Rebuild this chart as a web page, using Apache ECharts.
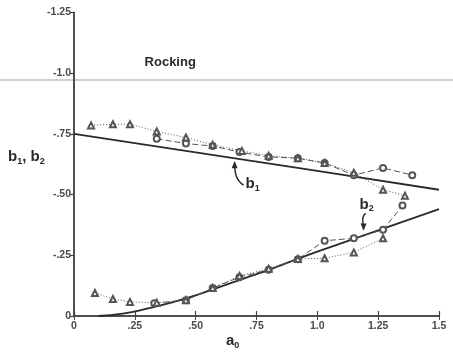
<!DOCTYPE html>
<html><head><meta charset="utf-8">
<script src="https://cdn.jsdelivr.net/npm/echarts@6/dist/echarts.min.js"></script>
<style>html,body{margin:0;padding:0;background:#fff}#c{width:453px;height:354px}</style>
</head><body><div id="c"></div>
<script>
// tick values / labels
const xTickLabels = {'0':'0','25':'.25','50':'.50','75':'.75','100':'1.0','125':'1.25','150':'1.5'};
const yTickLabels = {'0':'0','-25':'-.25','-50':'-.50','-75':'-.75','-100':'-1.0','-125':'-1.25'};

// b1: solid theoretical curve
const b1Curve = [[0,-0.75],[0.5,-0.674],[1.0,-0.598],[1.5,-0.52]];
// b1: measured (circles, dashed)
const b1CircX = [0.34,0.46,0.57,0.68,0.80,0.92,1.03,1.15,1.27,1.39];
const b1CircY = [-0.73,-0.71,-0.70,-0.675,-0.655,-0.65,-0.63,-0.58,-0.61,-0.58];
// b1: measured (triangles, dotted)
const b1TriX = [0.07,0.16,0.23,0.34,0.46,0.57,0.69,0.80,0.92,1.03,1.15,1.27,1.36];
const b1TriY = [-0.785,-0.79,-0.79,-0.76,-0.735,-0.705,-0.68,-0.66,-0.65,-0.63,-0.59,-0.52,-0.495];

// b2: solid theoretical curve
const b2Curve = [[0.1,0],[0.2,-0.01],[0.3,-0.03],[0.4,-0.055],[0.5,-0.085],[0.6,-0.12],[0.7,-0.155],[0.8,-0.19],[0.9,-0.228],[1.0,-0.265],[1.1,-0.3],[1.2,-0.335],[1.3,-0.37],[1.4,-0.405],[1.5,-0.44]];
// b2: measured (circles, dashed)
const b2CircX = [0.33,0.46,0.57,0.68,0.80,0.92,1.03,1.15,1.27,1.35];
const b2CircY = [-0.053,-0.065,-0.115,-0.16,-0.19,-0.234,-0.31,-0.32,-0.355,-0.455];
// b2: measured (triangles, dotted)
const b2TriX = [0.086,0.16,0.23,0.34,0.46,0.57,0.68,0.80,0.92,1.03,1.15,1.27];
const b2TriY = [-0.095,-0.07,-0.058,-0.055,-0.065,-0.115,-0.165,-0.195,-0.235,-0.238,-0.262,-0.32];

const zip = (a,b) => a.map((v,i)=>[v,b[i]]);
const INK = '#2a2a2a';
const tickFont = {fontFamily:'Liberation Sans, Arial, sans-serif', fontWeight:'bold', fontSize:10.5, color:'#4a4a4a'};
const markStyle = {color:'#555', borderColor:'#555', borderWidth:0.9};

const chart = echarts.init(document.getElementById('c'), null, {renderer:'canvas'});
const option = {
  animation:false,
  backgroundColor:'#fff',
  grid:{left:74, right:14, top:12.5, bottom:38},
  xAxis:[
    {type:'value', min:0, max:1.5, interval:0.25, position:'bottom',
     axisLine:{lineStyle:{color:'#444', width:1.5}}, splitLine:{show:false},
     axisTick:{inside:true, length:5, lineStyle:{color:'#444', width:1.2}},
     axisLabel:Object.assign({margin:5, formatter:v=>xTickLabels[String(Math.round(v*100))]}, tickFont)},
    {type:'value', min:0, max:1.5, interval:0.25, position:'top',
     axisLine:{lineStyle:{color:'#444', width:1.5}}, splitLine:{show:false},
     axisTick:{inside:true, length:4, lineStyle:{color:'#444'}}, axisLabel:{show:false}}
  ],
  yAxis:[
    {type:'value', min:-1.25, max:0, interval:0.25, inverse:true, position:'left',
     axisLine:{show:true, lineStyle:{color:'#444', width:1.5}}, splitLine:{show:false},
     axisTick:{show:true, inside:false, length:4, lineStyle:{color:'#444', width:1.2}},
     axisLabel:Object.assign({margin:3, formatter:v=>yTickLabels[String(Math.round(v*100))]}, tickFont)},
    {type:'value', min:-1.25, max:0, interval:0.25, inverse:true, position:'right',
     axisLine:{show:true, lineStyle:{color:'#444', width:1.5}}, splitLine:{show:false},
     axisTick:{show:true, inside:true, length:4, lineStyle:{color:'#444'}}, axisLabel:{show:false}}
  ],
  series:[
    {type:'line', data:b1Curve, showSymbol:false, symbol:'none', lineStyle:{color:INK, width:1.8}, z:3},
    {type:'line', data:b2Curve, showSymbol:false, symbol:'none', smooth:true, lineStyle:{color:INK, width:1.8}, z:3},
    {type:'line', data:zip(b1CircX,b1CircY), symbol:'emptyCircle', symbolSize:6, itemStyle:markStyle, lineStyle:{color:'#555', width:1, type:[6,3]}},
    {type:'line', data:zip(b1TriX,b1TriY), symbol:'emptyTriangle', symbolSize:6, itemStyle:markStyle, lineStyle:{color:'#555', width:1, type:[1,2]}},
    {type:'line', data:zip(b2CircX,b2CircY), symbol:'emptyCircle', symbolSize:6, itemStyle:markStyle, lineStyle:{color:'#555', width:1, type:[6,3]}},
    {type:'line', data:zip(b2TriX,b2TriY), symbol:'emptyTriangle', symbolSize:6, itemStyle:markStyle, lineStyle:{color:'#555', width:1, type:[1,2]}}
  ]
};
chart.setOption(option);

// annotations positioned via data -> pixel conversion
const px = (x,y) => chart.convertToPixel({xAxisIndex:0, yAxisIndex:0}, [x,y]);
const b1Tip = px(0.66, -0.65);
const b2Tip = px(1.19, -0.34);
const rocking = px(0.29, -1.07);
const arrowHead = (tip, dir) => ({type:'polygon', shape:{points: dir==='up'
   ? [[tip[0],tip[1]+1],[tip[0]-3,tip[1]+8],[tip[0]+3,tip[1]+8]]
   : [[tip[0],tip[1]-1],[tip[0]-3,tip[1]-8],[tip[0]+3,tip[1]-8]]}, style:{fill:INK}, z:10});
const subRich = {
  b:{fontFamily:'Liberation Sans, Arial, sans-serif', fontWeight:'bold', fontSize:15, fill:INK, lineHeight:18},
  s:{fontFamily:'Liberation Sans, Arial, sans-serif', fontWeight:'bold', fontSize:9, fill:INK, lineHeight:18, verticalAlign:'bottom', padding:[6,0,0,0]}
};
chart.setOption({graphic:[
  {type:'line', shape:{x1:0, y1:80, x2:453, y2:80}, style:{stroke:'#cfcfcf', lineWidth:2}, z:0},
  {type:'text', x:rocking[0], y:rocking[1], style:{text:'Rocking', font:'bold 13px Liberation Sans, Arial, sans-serif', fill:INK}, z:10},
  {type:'text', x:8, y:148, style:{text:'{b|b}{s|1}{b|, b}{s|2}', rich:subRich}, z:10},
  {type:'text', x:226, y:332, style:{text:'{b|a}{s|0}', rich:subRich}, z:10},
  {type:'text', x:b1Tip[0]+11, y:b1Tip[1]+17, style:{text:'{b|b}{s|1}', rich:subRich}, z:10},
  {type:'bezierCurve', shape:{x1:b1Tip[0]+9, y1:b1Tip[1]+27, cpx1:b1Tip[0]+1, cpy1:b1Tip[1]+22, cpx2:b1Tip[0], cpy2:b1Tip[1]+14, x2:b1Tip[0], y2:b1Tip[1]+4}, style:{stroke:INK, lineWidth:1.5, fill:null}, z:10},
  arrowHead([b1Tip[0], b1Tip[1]+2], 'up'),
  {type:'text', x:b2Tip[0]-4, y:b2Tip[1]-38, style:{text:'{b|b}{s|2}', rich:subRich}, z:10},
  {type:'bezierCurve', shape:{x1:b2Tip[0]+2, y1:b2Tip[1]-20, cpx1:b2Tip[0]-3, cpy1:b2Tip[1]-16, cpx2:b2Tip[0], cpy2:b2Tip[1]-10, x2:b2Tip[0], y2:b2Tip[1]-4}, style:{stroke:INK, lineWidth:1.5, fill:null}, z:10},
  arrowHead([b2Tip[0], b2Tip[1]-2], 'down')
]});
</script></body></html>
